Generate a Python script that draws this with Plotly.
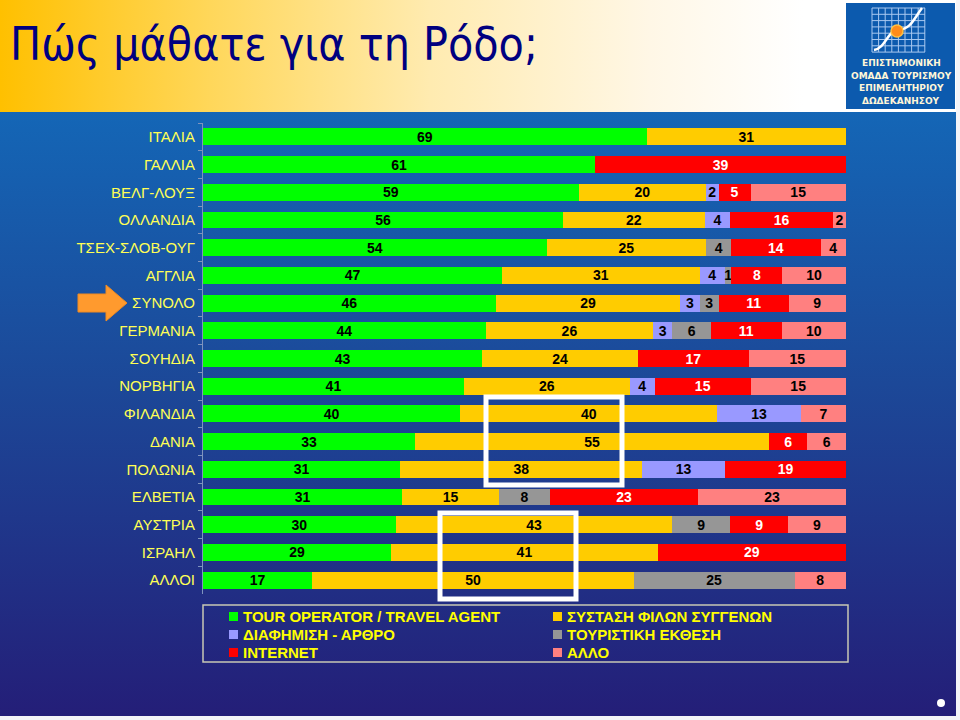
import base64
import plotly.graph_objects as go

# ---------------- data ----------------
categories = ["ΙΤΑΛΙΑ", "ΓΑΛΛΙΑ", "ΒΕΛΓ-ΛΟΥΞ", "ΟΛΛΑΝΔΙΑ", "ΤΣΕΧ-ΣΛΟΒ-ΟΥΓ", "ΑΓΓΛΙΑ",
              "ΣΥΝΟΛΟ", "ΓΕΡΜΑΝΙΑ", "ΣΟΥΗΔΙΑ", "ΝΟΡΒΗΓΙΑ", "ΦΙΛΑΝΔΙΑ", "ΔΑΝΙΑ",
              "ΠΟΛΩΝΙΑ", "ΕΛΒΕΤΙΑ", "ΑΥΣΤΡΙΑ", "ΙΣΡΑΗΛ", "ΑΛΛΟΙ"]
tour_operator = [69, 61, 59, 56, 54, 47, 46, 44, 43, 41, 40, 33, 31, 31, 30, 29, 17]
friends = [31, 0, 20, 22, 25, 31, 29, 26, 24, 26, 40, 55, 38, 15, 43, 41, 50]
advert = [0, 0, 2, 4, 0, 4, 3, 3, 0, 4, 13, 0, 13, 0, 0, 0, 0]
tourism_fair = [0, 0, 0, 0, 4, 1, 3, 6, 0, 0, 0, 0, 0, 8, 9, 0, 25]
internet = [0, 39, 5, 16, 14, 8, 11, 11, 17, 15, 0, 6, 19, 23, 9, 29, 0]
other = [0, 0, 15, 2, 4, 10, 9, 10, 15, 15, 7, 6, 0, 23, 9, 0, 8]

series_names = ["TOUR OPERATOR / TRAVEL AGENT", "ΣΥΣΤΑΣΗ ΦΙΛΩΝ ΣΥΓΓΕΝΩΝ", "ΔΙΑΦΗΜΙΣΗ - ΑΡΘΡΟ",
                "ΤΟΥΡΙΣΤΙΚΗ ΕΚΘΕΣΗ", "INTERNET", "ΑΛΛΟ"]
series_values = [tour_operator, friends, advert, tourism_fair, internet, other]
series_colors = ["#00FF00", "#FFCC00", "#9999FF", "#969696", "#FF0000", "#FF8080"]
label_colors = ["#000000", "#000000", "#000000", "#000000", "#FFFFFF", "#000000"]

W, H = 960, 720


def X(px):
    return px / W


def Y(py):
    return 1 - py / H


fig = go.Figure()
for name, vals, color, tcolor in zip(series_names, series_values, series_colors, label_colors):
    fig.add_trace(go.Bar(
        y=categories,
        x=[v if v else None for v in vals],
        name=name,
        orientation="h",
        marker=dict(color=color, line=dict(width=0)),
        text=[str(v) if v else "" for v in vals],
        texttemplate="%{text}",
        textposition="inside",
        insidetextanchor="middle",
        textangle=0,
        textfont=dict(family="Liberation Sans Narrow, Arial Narrow, Liberation Sans, Arial",
                      size=14, color=tcolor, weight="bold"),
        hoverinfo="skip",
        showlegend=False,
    ))

# ---------------- background (gradients) ----------------
svg = f"""<svg xmlns="http://www.w3.org/2000/svg" width="{W}" height="{H}" viewBox="0 0 {W} {H}">
<defs>
<linearGradient id="h" x1="0" y1="0" x2="1" y2="0">
<stop offset="0" stop-color="#FFC000"/>
<stop offset="0.22" stop-color="#FFD75A"/>
<stop offset="0.45" stop-color="#FFEBB0"/>
<stop offset="0.68" stop-color="#FFF7E6"/>
<stop offset="0.84" stop-color="#FFFFFF"/>
<stop offset="1" stop-color="#FFFFFF"/>
</linearGradient>
<linearGradient id="b" x1="0" y1="0" x2="0" y2="1">
<stop offset="0" stop-color="#1466B6"/>
<stop offset="0.45" stop-color="#1C4898"/>
<stop offset="1" stop-color="#241E78"/>
</linearGradient>
</defs>
<rect x="0" y="0" width="{W}" height="{H}" fill="#F4F4F8"/>
<rect x="0" y="0" width="956" height="113" fill="url(#h)"/>
<rect x="0" y="112" width="956" height="604" fill="url(#b)"/>
</svg>"""
src = "data:image/svg+xml;base64," + base64.b64encode(svg.encode("utf-8")).decode("ascii")

shapes = []
annotations = []

# highlight boxes
for (x0, y0, x1, y1) in [(486, 397, 622, 485), (440, 513, 576, 599)]:
    shapes.append(dict(type="rect", xref="paper", yref="paper",
                       x0=X(x0), x1=X(x1), y0=Y(y1), y1=Y(y0),
                       line=dict(color="#FFFFFF", width=5), layer="above"))

# legend frame + entries (two columns, three rows)
shapes.append(dict(type="rect", xref="paper", yref="paper",
                   x0=X(203), x1=X(848), y0=Y(662), y1=Y(605),
                   line=dict(color="#C8C8B4", width=1.5), layer="below"))
leg_cols = [229, 553]
leg_rows = [616, 634, 652]
for i, (name, color) in enumerate(zip(series_names, series_colors)):
    cx = leg_cols[i % 2]
    cy = leg_rows[i // 2]
    shapes.append(dict(type="rect", xref="paper", yref="paper",
                       x0=X(cx), x1=X(cx + 9), y0=Y(cy + 5), y1=Y(cy - 4),
                       fillcolor=color, line=dict(width=0), layer="above"))
    annotations.append(dict(text=name, xref="paper", yref="paper", x=X(cx + 12), y=Y(cy),
                            xanchor="left", yanchor="middle", showarrow=False,
                            font=dict(family="Liberation Sans, Arial", size=15,
                                      color="#FFFF00", weight="bold")))

# orange arrow pointing to ΣΥΝΟΛΟ
ax = [(78, 294), (106, 294), (106, 285), (127, 303), (106, 321), (106, 312), (78, 312)]
path = "M " + " L ".join(f"{X(a)},{Y(b)}" for a, b in ax) + " Z"
shapes.append(dict(type="path", xref="paper", yref="paper", path=path,
                   fillcolor="#FF9A2E", line=dict(color="#F08A20", width=1), layer="above"))

# logo box
shapes.append(dict(type="rect", xref="paper", yref="paper",
                   x0=X(846), x1=X(955), y0=Y(109), y1=Y(3),
                   fillcolor="#0C5AAE", line=dict(width=0), layer="above"))
for i in range(9):
    gx = 872 + i * 6.6
    shapes.append(dict(type="line", xref="paper", yref="paper",
                       x0=X(gx), x1=X(gx), y0=Y(52), y1=Y(8),
                       line=dict(color="#A8C8F0", width=1), layer="above"))
for j in range(8):
    gy = 8 + j * 6.3
    shapes.append(dict(type="line", xref="paper", yref="paper",
                       x0=X(872), x1=X(925), y0=Y(gy), y1=Y(gy),
                       line=dict(color="#A8C8F0", width=1), layer="above"))
curve = (f"M {X(874)},{Y(50)} C {X(886)},{Y(48)} {X(887)},{Y(31)} {X(898)},{Y(30)} "
         f"C {X(911)},{Y(29)} {X(913)},{Y(20)} {X(922)},{Y(8)}")
shapes.append(dict(type="path", xref="paper", yref="paper", path=curve,
                   line=dict(color="#FFFFFF", width=2.5), layer="above"))
shapes.append(dict(type="circle", xref="paper", yref="paper",
                   x0=X(891), x1=X(903), y0=Y(37), y1=Y(25),
                   fillcolor="#FF8C1A", line=dict(color="#FFC040", width=1.5), layer="above"))

# white dot bottom right
shapes.append(dict(type="circle", xref="paper", yref="paper",
                   x0=X(937), x1=X(945), y0=Y(707), y1=Y(699),
                   fillcolor="#FFFFFF", line=dict(width=0), layer="above"))

# title
annotations.append(dict(text="Πώς μάθατε για τη Ρόδο;", xref="paper", yref="paper",
                        x=X(8), y=Y(44), xanchor="left", yanchor="middle", showarrow=False,
                        font=dict(family="DejaVu Sans Condensed, DejaVu Sans", size=46, color="#000080")))
# logo text
for txt, ty in [("ΕΠΙΣΤΗΜΟΝΙΚΗ", 63), ("ΟΜΑΔΑ ΤΟΥΡΙΣΜΟΥ", 76), ("ΕΠΙΜΕΛΗΤΗΡΙΟΥ", 88),
                ("ΔΩΔΕΚΑΝΗΣΟΥ", 101)]:
    annotations.append(dict(text=txt, xref="paper", yref="paper", x=X(901), y=Y(ty),
                            xanchor="center", yanchor="middle", showarrow=False,
                            font=dict(family="DejaVu Sans", size=9, color="#FFF6D8", weight="bold")))

fig.update_layout(
    width=W, height=H,
    margin=dict(l=0, r=0, t=0, b=0),
    barmode="stack",
    barnorm="percent",
    bargap=0.39,
    paper_bgcolor="#FFFFFF",
    plot_bgcolor="rgba(0,0,0,0)",
    images=[dict(source=src, xref="paper", yref="paper", x=0, y=1, sizex=1, sizey=1,
                 xanchor="left", yanchor="top", sizing="stretch", layer="below")],
    xaxis=dict(domain=[X(203), X(846)], range=[0, 100], visible=False, fixedrange=True),
    yaxis=dict(domain=[Y(594), Y(123)], autorange="reversed", type="category",
               showline=True, linecolor="#7E93BE", linewidth=1,
               ticks="outside", ticklen=4, tickcolor="#7E93BE", tickson="boundaries",
               ticklabelstandoff=4,
               tickfont=dict(family="Liberation Sans, Arial", size=15, color="#FFFF55"),
               showgrid=False, zeroline=False, fixedrange=True),
    uniformtext=dict(minsize=14, mode="show"),
    showlegend=False,
    shapes=shapes,
    annotations=annotations,
)

fig.write_html("out.html", config={"displayModeBar": False},
               post_script="document.body.style.margin='0';document.body.style.overflow='hidden';")
